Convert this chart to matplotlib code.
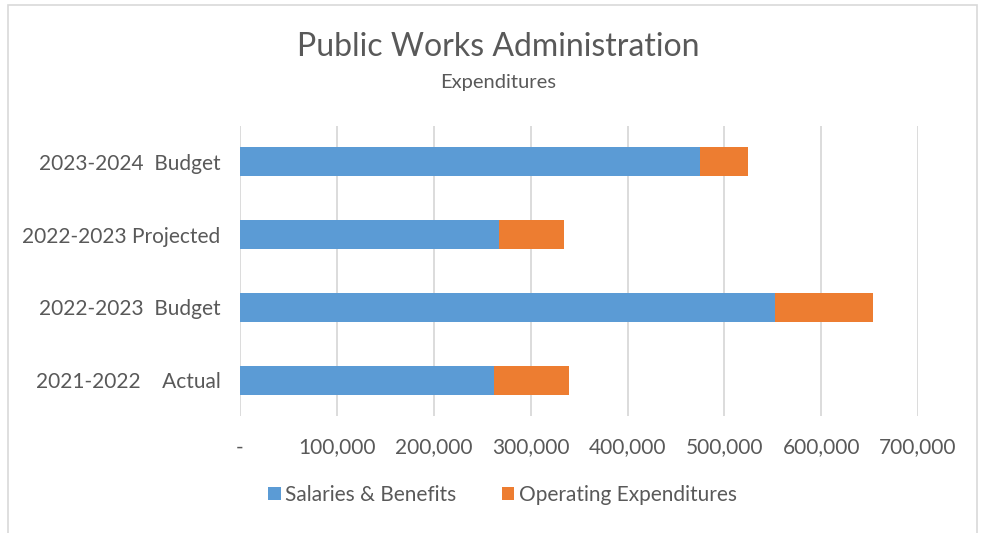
import matplotlib

matplotlib.use("Agg")
import matplotlib.pyplot as plt  # noqa: E402
from matplotlib.patches import Rectangle  # noqa: E402
from matplotlib.ticker import FuncFormatter  # noqa: E402

# bottom -> top, as drawn
CATEGORIES = ["2021-2022    Actual", "2022-2023  Budget", "2022-2023 Projected", "2023-2024  Budget"]
SALARIES = [262000, 552000, 267000, 475000]
OPERATING = [78000, 101000, 67000, 49000]
XTICKS = [0, 100000, 200000, 300000, 400000, 500000, 600000, 700000]

BLUE = "#5B9BD5"
ORANGE = "#ED7D31"
TXT = "#595959"
GRID = "#D9D9D9"

plt.rcParams["font.family"] = ["Lato", "DejaVu Sans"]

fig = plt.figure(figsize=(9.83, 5.33), dpi=100)
ax = fig.add_axes([0.2442, 0.2186, 0.934 - 0.2442, 0.7645 - 0.2186])

ys = list(range(len(CATEGORIES)))
ax.barh(ys, SALARIES, height=0.4, color=BLUE, label="Salaries & Benefits", zorder=3)
ax.barh(ys, OPERATING, left=SALARIES, height=0.4, color=ORANGE,
        label="Operating Expenditures", zorder=3)

ax.set_xlim(0, 700000)
ax.set_ylim(-0.5, len(CATEGORIES) - 0.5)
ax.set_xticks(XTICKS)
ax.xaxis.set_major_formatter(FuncFormatter(lambda v, _: "-" if v == 0 else f"{int(v):,}"))
ax.set_yticks(ys)
ax.set_yticklabels(CATEGORIES)
ax.grid(axis="x", color=GRID, lw=1.3, zorder=0)
for s in ax.spines.values():
    s.set_visible(False)
ax.tick_params(axis="both", length=0, labelsize=15, labelcolor=TXT)
ax.tick_params(axis="x", pad=15)
ax.tick_params(axis="y", pad=14)

fig.text(0.507, 0.912, "Public Works Administration", ha="center", va="center",
         fontsize=23, color=TXT)
fig.text(0.507, 0.846, "Expenditures", ha="center", va="center", fontsize=14.5, color=TXT)

ax.legend(loc="center", bbox_to_anchor=(0.511, 0.071), bbox_transform=fig.transFigure, ncol=2,
          frameon=False, fontsize=15, labelcolor=TXT, handlelength=0.6, handleheight=0.6,
          handletextpad=0.2, columnspacing=2.2)

fig.patches.append(Rectangle((0.008, -0.1), 0.986, 1.09, transform=fig.transFigure,
                             fill=False, edgecolor=GRID, lw=1.2))

fig.savefig("out.png", dpi=100)
